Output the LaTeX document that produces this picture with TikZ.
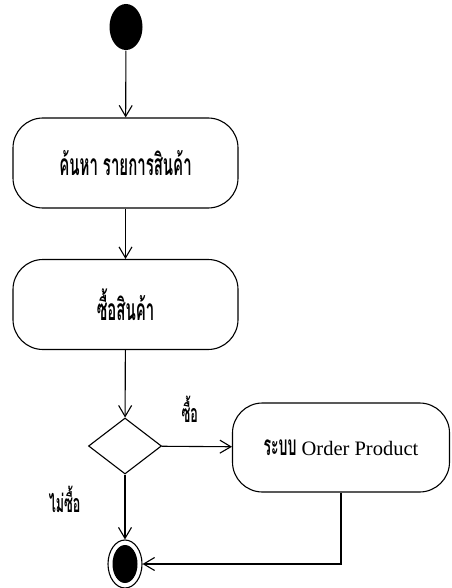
\documentclass[tikz,border=0pt]{standalone}
\usepackage{fontspec}
\setmainfont{Liberation Serif}
\newfontfamily\thaifont[Script=Thai,FakeStretch=0.5]{Loma}
\usetikzlibrary{shapes.geometric,arrows.meta,positioning}

\begin{document}
\begin{tikzpicture}[x=1pt, y=-1pt, line width=1.1pt,
  act/.style={draw, rounded corners=30pt, minimum width=225pt, minimum height=90pt,
    inner sep=0pt, font={\thaifont\bfseries\fontsize{30}{34}\selectfont}},
  guard/.style={font={\thaifont\bfseries\fontsize{25}{28}\selectfont}, inner sep=1pt},
  flow/.style={-{Straight Barb[length=11pt,width=13pt]}}]
  \useasboundingbox (0,0) rectangle (451,588);

  % initial and final states
  \node[ellipse, fill=black, minimum width=33pt, minimum height=46pt, inner sep=0pt] (start) at (126,27) {};
  \node[ellipse, draw, minimum width=34pt, minimum height=48pt, inner sep=0pt] (stop) at (125,564) {};
  \fill (stop.center) ellipse (12.5pt and 19pt);

  % activities
  \node[act] (search) at (125.5,163) {ค้นหา รายการสินค้า};
  \node[act] (buy) at (125.5,304.5) {ซื้อสินค้า};
  \node[diamond, draw, minimum width=73pt, minimum height=56pt, inner sep=0pt] (choice) at (125,446) {};
  \node[act, minimum width=217pt, minimum height=89pt, font={\fontsize{20.5}{24}\selectfont}]
    (order) at (341,447.5) {{\thaifont\bfseries\fontsize{28}{30}\selectfont ระบบ} Order Product};

  % flows
  \draw[flow] (choice) -- node[guard, pos=0.4, above=22pt] (yes) {ซื้อ} (order);
  \draw[flow] (choice) -- node[guard, pos=0.38, left=43pt] (no) {ไม่ซื้อ} (stop);
  \draw[flow] (start) -- (search);
  \draw[flow] (search) -- (buy);
  \draw[flow] (buy) -- (choice);
  \draw[flow] (order.south) |- (stop);
\end{tikzpicture}
\end{document}
